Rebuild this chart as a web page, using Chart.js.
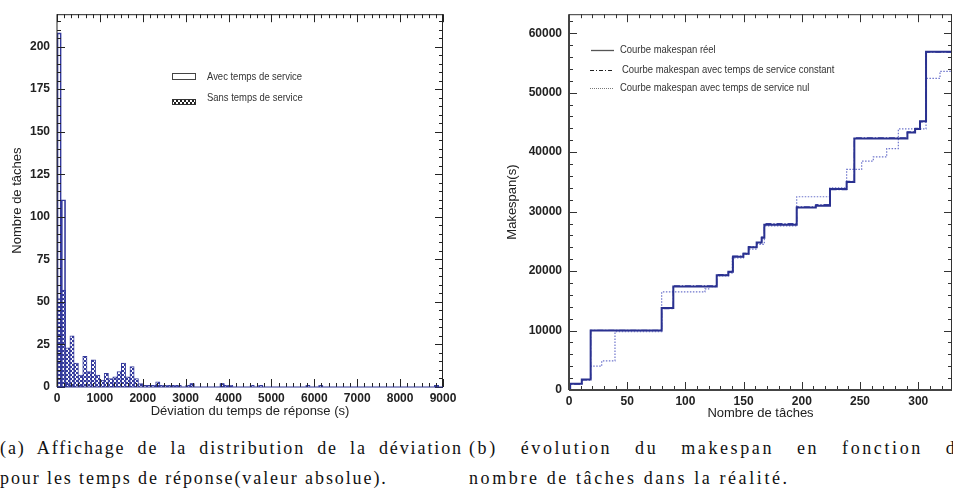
<!DOCTYPE html>
<html><head><meta charset="utf-8">
<script src="https://cdn.jsdelivr.net/npm/chart.js@4.4.0/dist/chart.umd.min.js"></script>
<style>
html,body{margin:0;padding:0;background:#fff;width:953px;height:492px;overflow:hidden;position:relative}
canvas{position:absolute;top:0}
#c1{left:0}
#c2{left:490px}
.cap{position:absolute;font-family:"Liberation Serif","DejaVu Serif",serif;font-size:18px;line-height:30px;color:#111;white-space:nowrap}
.j{text-align:justify;text-align-last:justify;white-space:normal;overflow:hidden;height:30px}
</style></head><body>
<canvas id="c1" width="470" height="425"></canvas>
<canvas id="c2" width="463" height="425"></canvas>
<div class="cap" style="left:0;top:433px;width:467px;letter-spacing:1.9px">
  <div class="j" style="width:463px">(a) Affichage de la distribution de la déviation</div>
  <div>pour les temps de réponse(valeur absolue).</div>
</div>
<div class="cap" style="left:469px;top:433px;width:484px;overflow:hidden;letter-spacing:2.6px">
  <div class="j" style="width:500px">(b) évolution du makespan en fonction du</div>
  <div>nombre de tâches dans la réalité.</div>
</div>
<script>
// ---------- (a) histogram data : bins of 100 s from 0 to 9000 ----------
const BIN_WIDTH = 100;
const avecService = [208,110,2,1,0,1,0,0,0,0, 0,0,0,0,0,0,0,0,0,0, 0,0,0,1,0,0,0,0,0,0, 0,2,0,0,0,0,0,0,2,0, 0,0,0,0,0,0,0,0,0,0, 0,0,0,0,0,0,0,0,0,0, 0,0,0,0,0,0,0,0,0,0, 0,0,0,0,0,0,0,0,0,0, 0,0,0,0,0,0,0,0,1,0];
const sansService = [52,57,23,30,14,7,18,9,16,7, 4,8,5,6,9,14,6,12,5,2, 1,1,1,3,1,1,1,1,1,0, 1,2,0,0,0,0,0,0,2,1, 1,0,0,0,0,1,0,1,0,0, 0,0,0,0,0,0,0,0,1,0, 0,1,0,0,0,0,0,0,0,0, 0,0,0,0,0,0,0,0,0,0, 0,0,0,0,0,0,0,0,1,0];
const histXTicks = [0,1000,2000,3000,4000,5000,6000,7000,8000,9000];
const histYTicks = [0,25,50,75,100,125,150,175,200];

// ---------- (b) makespan step curves ----------
const reelX = [0,1,11,18.6,79.6,89.6,126.9,136.9,140.8,149.8,154.3,161.2,165.5,167.8,195.6,212,224.2,238.5,245.1,290.7,297.3,301.5,306.7,329];
const reelY = [0,1050,1750,10000,13800,17400,19300,19900,22400,22900,24000,24800,25600,27800,30700,31000,33800,35000,42300,43300,43900,45200,56900,56900];
const constX = [0,1,11,18.6,79.6,89.6,126.9,136.9,140.8,149.8,154.3,161.2,165.5,167.8,195.6,212,224.2,238.5,245.1,290.7,297.3,301.5,306.7,329];
const constY = [0,1000,1700,10050,13700,17500,19400,19800,22500,23000,24100,24700,25700,28000,30800,31200,33700,35100,42400,43400,44000,45100,56800,56800];
const nulX = [0,1,11,18.6,28.1,39.5,79.6,116.8,120,126.9,136.9,140.3,149.8,154.3,161.2,167.8,195.6,224.2,238.5,251.4,261.4,272.9,282.9,306.7,318.7,329];
const nulY = [0,1050,1750,4000,4900,9800,16500,17000,17400,19200,19700,22200,22800,23700,24500,27600,32500,34000,37100,38500,39200,40600,43900,52400,53600,53600];
const mkXTicks = [0,50,100,150,200,250,300];
const mkYTicks = [0,10000,20000,30000,40000,50000,60000];

const BLUE = '#343a9c';
const TICKFONT = {family:'"Liberation Sans", Arial, sans-serif', size:12, weight:'bold'};
const TITLEFONT = {family:'"Liberation Sans", Arial, sans-serif', size:13};
const plain = v => String(v);

function checker(ctx, col) {
  const c = document.createElement('canvas'); c.width = 4; c.height = 4;
  const g = c.getContext('2d');
  g.fillStyle = '#fff'; g.fillRect(0,0,4,4);
  g.fillStyle = col; g.fillRect(0,0,2,2); g.fillRect(2,2,2,2);
  return ctx.createPattern(c, 'repeat');
}

// inward ticks + frame
const boxTicks = {
  id: 'boxTicks',
  afterDatasetsDraw(chart, args, o) {
    const {ctx, chartArea: a, scales: {x, y}} = chart;
    ctx.save();
    ctx.strokeStyle = o.color; ctx.lineWidth = 1;
    const loop = (sc, step, fn) => {
      const i0 = Math.ceil(sc.min / step - 1e-9), i1 = Math.floor(sc.max / step + 1e-9);
      for (let i = i0; i <= i1; i++) fn(sc.getPixelForValue(i * step), i * step);
    };
    const isMaj = (v, m) => Math.abs(v / m - Math.round(v / m)) < 1e-6;
    loop(x, o.xMinor, (p, v) => {
      const L = isMaj(v, o.xMajor) ? o.maj : o.min;
      const px = Math.round(p) + 0.5;
      ctx.beginPath();
      ctx.moveTo(px, a.bottom); ctx.lineTo(px, a.bottom - L);
      ctx.moveTo(px, a.top); ctx.lineTo(px, a.top + L);
      ctx.stroke();
    });
    loop(y, o.yMinor, (p, v) => {
      const L = isMaj(v, o.yMajor) ? o.maj : o.min;
      const py = Math.round(p) + 0.5;
      ctx.beginPath();
      ctx.moveTo(a.left, py); ctx.lineTo(a.left + L, py);
      ctx.moveTo(a.right, py); ctx.lineTo(a.right - L, py);
      ctx.stroke();
    });
    ctx.lineWidth = 1;
    ctx.strokeStyle = o.frame;
    ctx.beginPath();
    ctx.moveTo(a.left, a.top + 0.5); ctx.lineTo(a.right, a.top + 0.5);
    ctx.moveTo(a.right - 0.5, a.top); ctx.lineTo(a.right - 0.5, a.bottom);
    ctx.stroke();
    ctx.lineWidth = o.lbWidth;
    ctx.strokeStyle = o.lbColor;
    ctx.beginPath();
    ctx.moveTo(a.left, a.top); ctx.lineTo(a.left, a.bottom);
    ctx.stroke();
    ctx.strokeStyle = o.bColor || o.lbColor;
    ctx.beginPath();
    ctx.moveTo(a.left, a.bottom); ctx.lineTo(a.right, a.bottom);
    ctx.stroke();
    ctx.restore();
  }
};

// legend drawn in place
const placedLegend = {
  id: 'placedLegend',
  afterDraw(chart, args, o) {
    const ctx = chart.ctx;
    ctx.save();
    o.items.forEach(it => {
      if (it.kind === 'box') {
        ctx.strokeStyle = '#444'; ctx.lineWidth = 1;
        ctx.strokeRect(it.sx + 0.5, it.sy + 0.5, it.sw, it.sh);
      } else if (it.kind === 'hatch') {
        ctx.fillStyle = checker(ctx, '#222');
        ctx.fillRect(it.sx, it.sy, it.sw, it.sh);
        ctx.strokeStyle = '#333'; ctx.strokeRect(it.sx + 0.5, it.sy + 0.5, it.sw - 1, it.sh - 1);
      } else {
        ctx.strokeStyle = it.color; ctx.lineWidth = it.lw;
        ctx.setLineDash(it.dash || []);
        ctx.beginPath(); ctx.moveTo(it.sx, it.sy + 0.5); ctx.lineTo(it.sx + it.sw, it.sy + 0.5); ctx.stroke();
        ctx.setLineDash([]);
      }
      ctx.fillStyle = '#333';
      ctx.font = '11px "Liberation Sans", Arial, sans-serif';
      ctx.textBaseline = 'middle';
      ctx.save();
      ctx.translate(it.tx, it.ty);
      ctx.scale(o.squeeze, 1);
      ctx.fillText(it.text, 0, 0);
      ctx.restore();
    });
    ctx.restore();
  }
};

const keepTicks = list => sc => { sc.ticks = list.map(v => ({value: v})); };

// ---------- chart (a) ----------
const c1 = document.getElementById('c1');
const ctx1 = c1.getContext('2d');
const hatch = checker(ctx1, BLUE);
const binCenters = sansService.map((_, i) => i * BIN_WIDTH + BIN_WIDTH / 2);

new Chart(ctx1, {
  type: 'bar',
  data: {
    datasets: [
      { label: 'Avec temps de service', data: avecService.map((v, i) => ({x: binCenters[i], y: v})),
        backgroundColor: 'rgba(255,255,255,0)', borderColor: BLUE, borderWidth: 1, grouped: false,
        barPercentage: 1, categoryPercentage: 1 },
      { label: 'Sans temps de service', data: sansService.map((v, i) => ({x: binCenters[i], y: v})),
        backgroundColor: hatch, borderColor: BLUE, borderWidth: 1, grouped: false,
        barPercentage: 1, categoryPercentage: 1 }
    ]
  },
  options: {
    responsive: false, animation: false,
    layout: {padding: {top: 3, right: 27, left: 0, bottom: 0}},
    plugins: {
      legend: {display: false}, tooltip: {enabled: false},
      boxTicks: {xMajor: 1000, xMinor: 1000 / 6, yMajor: 25, yMinor: 5, maj: 8, min: 4,
                 color: '#222', frame: '#222', lbColor: '#222', lbWidth: 1, bColor: '#2c3290'},
      placedLegend: {squeeze: 0.86, items: [
        {kind: 'box', sx: 172, sy: 73, sw: 23, sh: 6, tx: 207, ty: 77, text: 'Avec temps de service'},
        {kind: 'hatch', sx: 172, sy: 99, sw: 24, sh: 6, tx: 207, ty: 98, text: 'Sans temps de service'}
      ]}
    },
    scales: {
      x: { type: 'linear', min: 0, max: 9000, offset: false,
        grid: {display: false, drawTicks: false}, border: {display: false},
        afterBuildTicks: keepTicks(histXTicks),
        afterFit: s => { s.height = 38; },
        ticks: {font: TICKFONT, color: '#222', padding: 4, maxRotation: 0, autoSkip: false, callback: plain},
        title: {display: true, text: 'Déviation du temps de réponse (s)', font: TITLEFONT, color: '#222', padding: {top: 0, bottom: 6}} },
      y: { min: 0, max: 219,
        grid: {display: false, drawTicks: false}, border: {display: false},
        afterBuildTicks: keepTicks(histYTicks),
        afterFit: s => { s.width = 57; },
        ticks: {font: TICKFONT, color: '#222', padding: 7, autoSkip: false, callback: plain},
        title: {display: true, text: 'Nombre de tâches', font: TITLEFONT, color: '#222', padding: {top: 10, bottom: 0}} }
    }
  },
  plugins: [boxTicks, placedLegend]
});

// ---------- chart (b) ----------
const pts = (xs, ys) => xs.map((x, i) => ({x, y: ys[i]}));
new Chart(document.getElementById('c2'), {
  type: 'line',
  data: {
    datasets: [
      { label: 'Courbe makespan réel', data: pts(reelX, reelY), stepped: 'before',
        borderColor: '#2a3190', borderWidth: 2, pointRadius: 0, fill: false },
      { label: 'Courbe makespan avec temps de service constant', data: pts(constX, constY), stepped: 'before',
        borderColor: '#3b41a3', borderWidth: 1.2, borderDash: [6, 2, 1, 2], pointRadius: 0, fill: false },
      { label: 'Courbe makespan avec temps de service nul', data: pts(nulX, nulY), stepped: 'before',
        borderColor: '#6d74cc', borderWidth: 1.2, borderDash: [1.5, 1.5], pointRadius: 0, fill: false }
    ]
  },
  options: {
    responsive: false, animation: false,
    layout: {padding: {top: 4, right: 1, left: 0, bottom: 0}},
    plugins: {
      legend: {display: false}, tooltip: {enabled: false},
      boxTicks: {xMajor: 50, xMinor: 10, yMajor: 10000, yMinor: 2000, maj: 8, min: 4,
                 color: '#333', frame: '#333', lbColor: '#444', lbWidth: 2},
      placedLegend: {squeeze: 0.86, items: [
        {kind: 'line', color: '#555', lw: 1.3, sx: 101, sy: 50, sw: 23, tx: 130, ty: 50, text: 'Courbe makespan réel'},
        {kind: 'line', color: '#222', lw: 1, dash: [4, 2, 1, 2], sx: 100, sy: 70, sw: 24, tx: 132, ty: 70, text: 'Courbe makespan avec temps de service constant'},
        {kind: 'line', color: '#777', lw: 1, dash: [1, 1], sx: 100, sy: 88, sw: 24, tx: 130, ty: 88, text: 'Courbe makespan avec temps de service nul'}
      ]}
    },
    scales: {
      x: { type: 'linear', min: 0, max: 329,
        grid: {display: false, drawTicks: false}, border: {display: false},
        afterBuildTicks: keepTicks(mkXTicks),
        afterFit: s => { s.height = 35; },
        ticks: {font: TICKFONT, color: '#222', padding: 4, maxRotation: 0, autoSkip: false, callback: plain},
        title: {display: true, text: 'Nombre de tâches', font: TITLEFONT, color: '#222', padding: {top: 0, bottom: 4}} },
      y: { min: 0, max: 63200,
        grid: {display: false, drawTicks: false}, border: {display: false},
        afterBuildTicks: keepTicks(mkYTicks),
        afterFit: s => { s.width = 79; },
        ticks: {font: TICKFONT, color: '#222', padding: 7, autoSkip: false, callback: plain},
        title: {display: true, text: 'Makespan(s)', font: TITLEFONT, color: '#222', padding: {top: 15, bottom: 0}} }
    }
  },
  plugins: [boxTicks, placedLegend]
});
</script>
</body></html>
